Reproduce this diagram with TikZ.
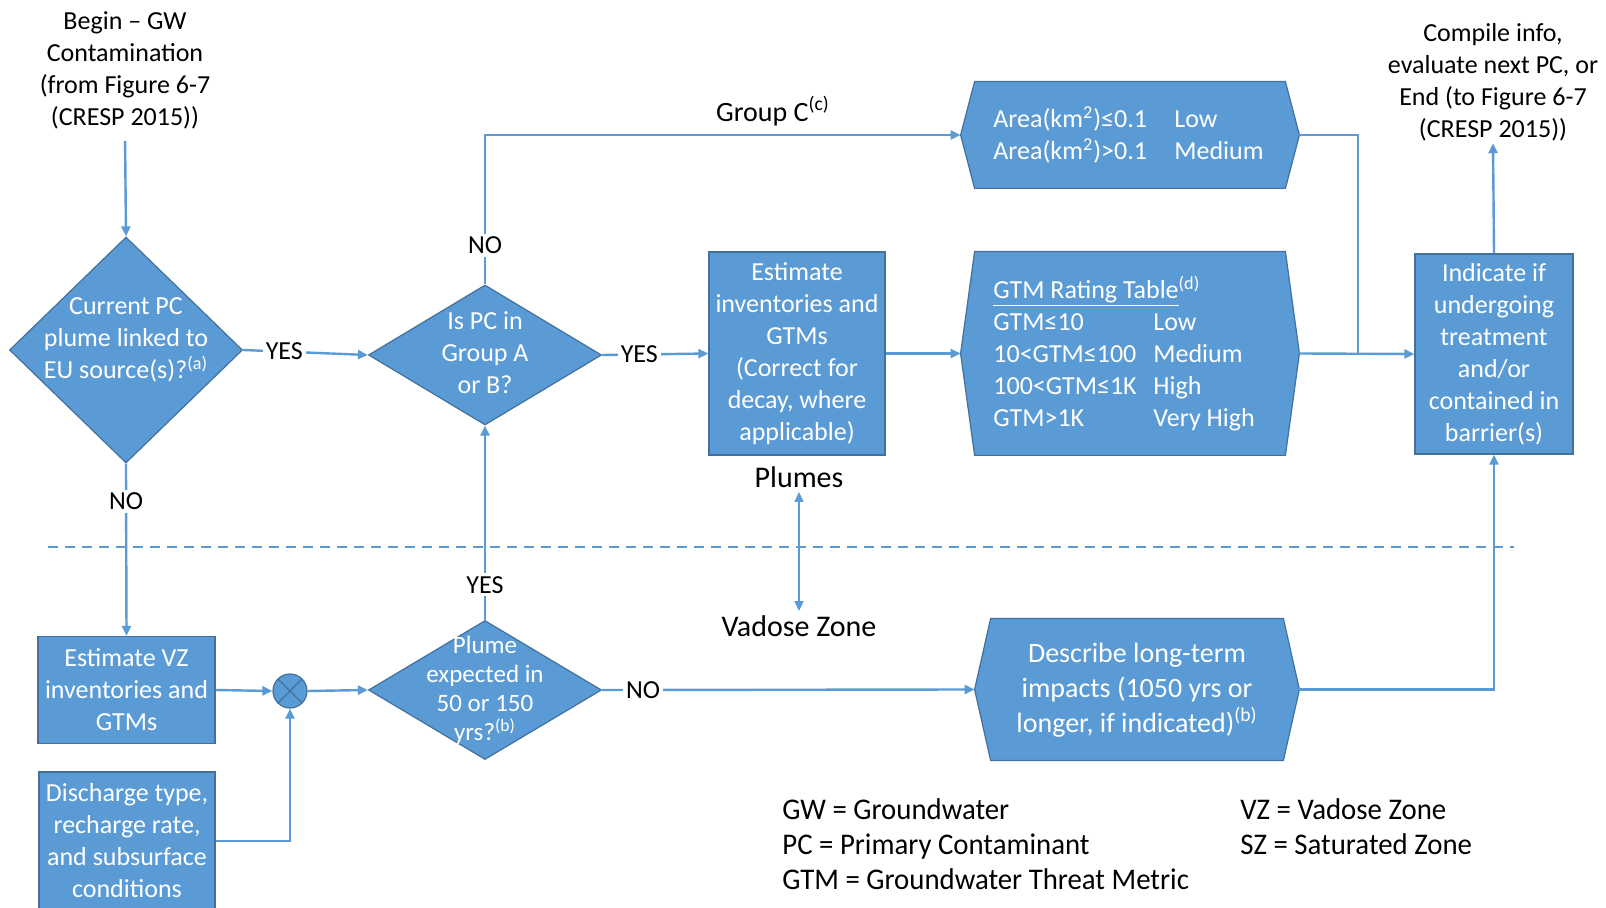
\documentclass[tikz,border=0pt]{standalone}
\usepackage{fontspec}
\setmainfont{Carlito}
\newfontfamily\condfont[FakeStretch=0.96]{Carlito}
\usetikzlibrary{shapes.geometric,arrows.meta}
\definecolor{bfill}{HTML}{5B9BD5}
\definecolor{bedge}{HTML}{41719C}
\definecolor{bline}{HTML}{5B9BD5}
\newcommand\hexpath[2]{%
  \filldraw[fill=bfill, draw=bedge, line width=0.6pt] (#1.west) -- ([xshift=#2]#1.north west) -- ([xshift=-#2]#1.north east) -- (#1.east) -- ([xshift=-#2]#1.south east) -- ([xshift=#2]#1.south west) -- cycle;}
\begin{document}
\begin{tikzpicture}[x=0.5pt,y=-0.5pt,
  font=\fontsize{13}{16}\selectfont,
  box/.style={rectangle, fill=bfill, draw=bedge, line width=0.6pt, text=white, align=center, inner sep=1pt},
  dia/.style={diamond, fill=bfill, draw=bedge, line width=0.6pt, inner sep=0pt, aspect=1},
  wtxt/.style={text=white, align=center, inner sep=0pt},
  btxt/.style={text=black, align=center, inner sep=1pt},
  lab/.style={fill=white, text=black, inner sep=1.5pt},
  hexb/.style={rectangle, inner sep=0pt},
  conn/.style={draw=bline, line width=1.2pt},
  arr/.style={conn, -{Triangle[length=5pt,width=4.5pt]}},
  legend/.style={anchor=west, inner sep=0pt, text height=10.5pt, text depth=3.5pt, font=\condfont\fontsize{15}{17}\selectfont},
]
\path[use as bounding box, fill=white] (0,0) rectangle (1606,908);

% dashed separator
\coordinate (dl) at (48,547);
\coordinate (dr) at (1514,547);
\draw[draw=bline, line width=1.2pt, dash pattern=on 5pt off 3.5pt] (dl) -- (dr);

% begin
\node[btxt] (begin) at (125,70) {Begin – GW\\Contamination\\(from Figure 6-7\\(CRESP 2015))};

% diamonds
\node[dia, minimum width=116.5pt, minimum height=113pt] (d1) at (126,350) {};
\node[wtxt] (d1t) at (126,340) {Current PC\\plume linked to\\EU source(s)?\textsuperscript{(a)}};
\node[dia, minimum width=116.5pt, minimum height=70pt] (d2) at (485,355) {};
\node[wtxt] (d2t) at (485,353) {Is PC in\\Group A\\or B?};
\node[dia, minimum width=116.5pt, minimum height=69.5pt] (d3) at (485,690) {};
\node[wtxt, font=\fontsize{12.5}{14.5}\selectfont] (d3t) at (485,690) {Plume\\expected in\\50 or 150\\yrs?\textsuperscript{(b)}};

% boxes
\node[box, minimum width=88pt, minimum height=101.5pt] (est) at (797,353.5) {Estimate\\inventories and\\GTMs\\(Correct for\\decay, where\\applicable)};
\node[box, minimum width=79pt, minimum height=100pt] (ind) at (1494,354) {Indicate if\\undergoing\\treatment\\and/or\\contained in\\barrier(s)};
\node[box, minimum width=88.5pt, minimum height=53.5pt] (vz) at (126.5,690) {Estimate VZ\\inventories and\\GTMs};
\node[box, minimum width=88pt, minimum height=69pt] (dis) at (127,841) {Discharge type,\\recharge rate,\\and subsurface\\conditions};
\node[circle, fill=bfill, draw=bedge, line width=0.6pt, minimum size=17pt, inner sep=0pt,
  path picture={\draw[bedge, line width=0.6pt] (path picture bounding box.north west) -- (path picture bounding box.south east) (path picture bounding box.north east) -- (path picture bounding box.south west);}] (cx) at (290,691) {};

% hexagons
\node[hexb, minimum width=169pt, minimum height=53pt] (h1) at (1130,135) {};
\hexpath{h1}{7pt}
\node[anchor=west, text=white, inner sep=0pt] (h1t) at (993,137) {\begin{tabular}{@{}p{90.5pt}@{}l@{}}Area(km\textsuperscript{2})≤0.1 & Low\\ Area(km\textsuperscript{2})>0.1 & Medium\end{tabular}};
\node[hexb, minimum width=169pt, minimum height=101.5pt] (h2) at (1130,353.5) {};
\hexpath{h2}{7pt}
\node[anchor=west, text=white, inner sep=0pt] (h2t) at (993,356) {\begin{tabular}{@{}p{80pt}@{}l@{}}\multicolumn{2}{@{}l@{}}{\underline{GTM Rating Table}\textsuperscript{(d)}}\\ GTM≤10 & Low\\ 10<GTM≤100 & Medium\\ 100<GTM≤1K & High\\ GTM>1K & Very High\end{tabular}};
\node[hexb, minimum width=162pt, minimum height=70.5pt] (h3) at (1137,689.5) {};
\hexpath{h3}{8pt}
\node[wtxt, font=\fontsize{14}{17.5}\selectfont] (h3t) at (1137,690) {Describe long-term\\impacts (1050 yrs or\\longer, if indicated)\textsuperscript{(b)}};

% free texts
\node[btxt] (comp) at (1493,82) {Compile info,\\evaluate next PC, or\\End (to Figure 6-7\\(CRESP 2015))};
\node[btxt, font=\fontsize{14}{17}\selectfont] (grpc) at (773,111) {Group C\textsuperscript{(c)}};
\node[btxt, font=\fontsize{15}{18}\selectfont] (plumes) at (799,477) {Plumes};
\node[btxt, font=\fontsize{15}{18}\selectfont] (vadose) at (799,626) {Vadose Zone};
\node[legend] (lg1) at (782,812) {GW = Groundwater};
\node[legend] (lg2) at (782,847) {PC = Primary Contaminant};
\node[legend] (lg3) at (782,882) {GTM = Groundwater Threat Metric};
\node[legend] (lg4) at (1240,812) {VZ = Vadose Zone};
\node[legend] (lg5) at (1240,847) {SZ = Saturated Zone};

% connectors
\draw[arr, shorten <=5pt] (begin.south) -- (d1.north);
\draw[arr] (d1.east) -- node[lab, pos=0.33] (yes1) {YES} (d2.west);
\draw[arr] (d2.east) -- node[lab, pos=0.35] (yes2) {YES} (est.west);
\draw[arr] (est.east) -- (h2.west);
\draw[arr] (d2.north) |- node[lab, pos=0.13] (no1) {NO} (h1.west);
\draw[arr] (h2.east) -- (ind.west);
\coordinate (jn) at (1358,353.5);
\draw[conn] (h1.east) -| (jn);
\draw[arr] (ind.north) -- (comp.south);
\draw[arr] (d1.south) -- node[lab, pos=0.22] (no2) {NO} (vz.north);
\draw[arr] (vz.east) -- (cx.west);
\draw[arr] (dis.east) -| (cx.south);
\draw[arr] (cx.east) -- (d3.west);
\draw[arr] (d3.north) -- node[lab, pos=0.18] (yes3) {YES} (d2.south);
\draw[arr] (d3.east) -- node[lab, pos=0.11] (no3) {NO} (h3.west);
\draw[arr] (h3.east) -| (ind.south);
\draw[draw=bline, line width=0.8pt, {Triangle[length=5pt,width=4.5pt]}-{Triangle[length=5pt,width=4.5pt]}, shorten <=1pt, shorten >=1pt] (plumes.south) -- (vadose.north);
\end{tikzpicture}
\end{document}
